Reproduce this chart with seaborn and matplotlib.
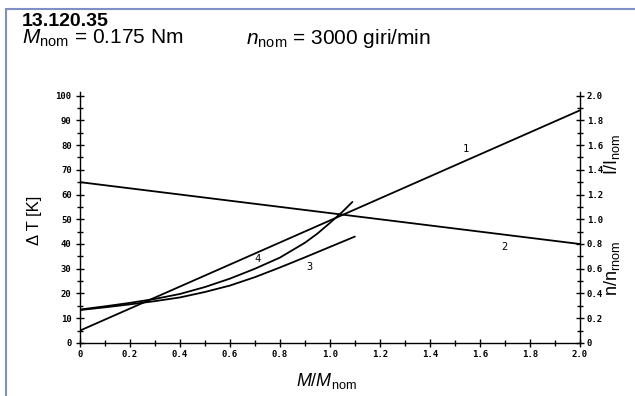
import matplotlib
matplotlib.use("Agg")
import matplotlib.pyplot as plt
import seaborn as sns
import pandas as pd
from matplotlib.ticker import MultipleLocator, FixedLocator
from matplotlib.lines import Line2D

sns.set_style("white")
plt.rcParams['font.family'] = ['Liberation Sans', 'DejaVu Sans']
plt.rcParams['mathtext.fontset'] = 'custom'
plt.rcParams['mathtext.rm'] = 'Liberation Sans'
plt.rcParams['mathtext.it'] = 'Liberation Sans:italic'
plt.rcParams['text.color'] = 'black'
plt.rcParams['xtick.color'] = 'black'
plt.rcParams['ytick.color'] = 'black'
plt.rcParams['axes.labelcolor'] = 'black'

# ---- data ----
x_line = [0.0, 2.0]
current_ratio = [0.10, 1.88]      # curve 1, I/Inom (right axis)
speed_ratio = [1.30, 0.80]        # curve 2, n/nnom (right axis)

x_c3 = [0.0, 0.1, 0.2, 0.3, 0.4, 0.5, 0.6, 0.7, 0.8, 0.9, 1.0, 1.1]
dT_c3 = [13.3, 14.4, 15.6, 16.9, 18.4, 20.6, 23.2, 26.6, 30.5, 34.6, 38.8, 43.0]
x_c4 = [0.0, 0.1, 0.2, 0.3, 0.4, 0.5, 0.6, 0.7, 0.8, 0.9, 0.95, 1.0, 1.05, 1.09]
dT_c4 = [13.5, 14.8, 16.2, 17.8, 19.8, 22.6, 26.0, 30.0, 34.5, 40.5, 44.2, 48.5, 53.0, 57.0]

curve_labels = ["1", "2", "3", "4"]
label_x = [1.545, 1.70, 0.92, 0.71]
label_y = [78.4, 38.9, 30.5, 33.8]

x_ticks = [0, 0.2, 0.4, 0.6, 0.8, 1.0, 1.2, 1.4, 1.6, 1.8, 2.0]
x_ticklabels = ["0", "0.2", "0.4", "0.6", "0.8", "1.0", "1.2", "1.4", "1.6", "1.8", "2.0"]
left_ticks = [0, 10, 20, 30, 40, 50, 60, 70, 80, 90, 100]
left_ticklabels = ["0", "10", "20", "30", "40", "50", "60", "70", "80", "90", "100"]
right_ticks = [0, 0.2, 0.4, 0.6, 0.8, 1.0, 1.2, 1.4, 1.6, 1.8, 2.0]
right_ticklabels = ["0", "0.2", "0.4", "0.6", "0.8", "1.0", "1.2", "1.4", "1.6", "1.8", "2.0"]

title = "13.120.35"

# ---- figure ----
fig = plt.figure(figsize=(6.35, 3.96), dpi=100)
ax = fig.add_axes([0.126, 0.134, 0.787, 0.634])
ax2 = ax.twinx()

df3 = pd.DataFrame({"x": x_c3, "y": dT_c3})
df4 = pd.DataFrame({"x": x_c4, "y": dT_c4})
df1 = pd.DataFrame({"x": x_line, "y": current_ratio})
df2 = pd.DataFrame({"x": x_line, "y": speed_ratio})

lw = 1.3
sns.lineplot(data=df3, x="x", y="y", ax=ax, color="black", lw=lw, sort=False)
sns.lineplot(data=df4, x="x", y="y", ax=ax, color="black", lw=lw, sort=False)
sns.lineplot(data=df1, x="x", y="y", ax=ax2, color="black", lw=lw, sort=False)
sns.lineplot(data=df2, x="x", y="y", ax=ax2, color="black", lw=lw, sort=False)

ax.set_xlim(0, 2.0)
ax.set_ylim(0, 101.5)
ax2.set_ylim(0, 2.03)

mono = dict(family="DejaVu Sans Mono", fontsize=6.5, fontweight="bold")

ax.xaxis.set_major_locator(FixedLocator(x_ticks))
ax.set_xticklabels(x_ticklabels, **mono)
ax.xaxis.set_minor_locator(MultipleLocator(0.1))
ax.yaxis.set_major_locator(FixedLocator(left_ticks))
ax.set_yticklabels(left_ticklabels, **mono)
ax.yaxis.set_minor_locator(MultipleLocator(5))
ax2.yaxis.set_major_locator(FixedLocator(right_ticks))
ax2.set_yticklabels(right_ticklabels, **mono)
ax2.yaxis.set_minor_locator(MultipleLocator(0.1))

for a in (ax, ax2):
    for s in a.spines.values():
        s.set_visible(False)
ax.spines["left"].set_visible(True)
ax.spines["bottom"].set_visible(True)
ax2.spines["right"].set_visible(True)
for s in (ax.spines["left"], ax.spines["bottom"], ax2.spines["right"]):
    s.set_color("black")
    s.set_linewidth(1.0)

ax.tick_params(axis="x", which="major", direction="inout", length=6, width=1, pad=2, bottom=True, colors="black")
ax.tick_params(axis="x", which="minor", direction="inout", length=5, width=1, bottom=True, colors="black")
ax.tick_params(axis="y", which="major", direction="inout", length=6, width=1, pad=3, left=True, colors="black")
ax.tick_params(axis="y", which="minor", direction="inout", length=5, width=1, left=True, colors="black")
ax2.tick_params(axis="y", which="major", direction="inout", length=6, width=1, pad=2, right=True, colors="black")
ax2.tick_params(axis="y", which="minor", direction="inout", length=5, width=1, right=True, colors="black")

ax.set_xlabel("")
ax.set_ylabel("")
ax2.set_ylabel("")

for t, xv, yv in zip(curve_labels, label_x, label_y):
    ax.text(xv, yv, t, ha="center", va="center", fontsize=7.5, family="DejaVu Sans Mono", color="black")

# axis titles
fig.text(35 / 635, 1 - 220 / 396, "Δ T [K]", rotation=90, ha="center", va="center", fontsize=12)
fig.text(612 / 635, 1 - 155 / 396, r"I/I$_\mathregular{nom}$", rotation=90, ha="center", va="center", fontsize=13)
fig.text(612 / 635, 1 - 268 / 396, r"n/n$_\mathregular{rnom}$", rotation=90, ha="center", va="center", fontsize=13)
fig.text(326 / 635, 1 - 381 / 396, r"$\mathit{M/M}$$_\mathregular{nom}$", ha="center", va="center", fontsize=13)

# header
fig.text(22 / 635, 1 - 21 / 396, title, ha="left", va="center", fontsize=14, fontweight="bold")
fig.text(22 / 635, 1 - 38.5 / 396, r"$\mathit{M}$$_\mathregular{nom}$ = 0.175 Nm", ha="left", va="center", fontsize=15)
fig.text(246 / 635, 1 - 38.5 / 396, r"$\mathit{n}$$_\mathregular{nom}$ = 3000 giri/min", ha="left", va="center", fontsize=15)

# frame lines (top and left)
fig.add_artist(Line2D([6 / 635, 6 / 635], [0, 1 - 8.5 / 396], transform=fig.transFigure, color="#7f8fc6", lw=1.5))
fig.add_artist(Line2D([6 / 635, 1], [1 - 8.5 / 396, 1 - 8.5 / 396], transform=fig.transFigure, color="#7f8fc6", lw=1.5))

fig.savefig("out.png", dpi=100)
